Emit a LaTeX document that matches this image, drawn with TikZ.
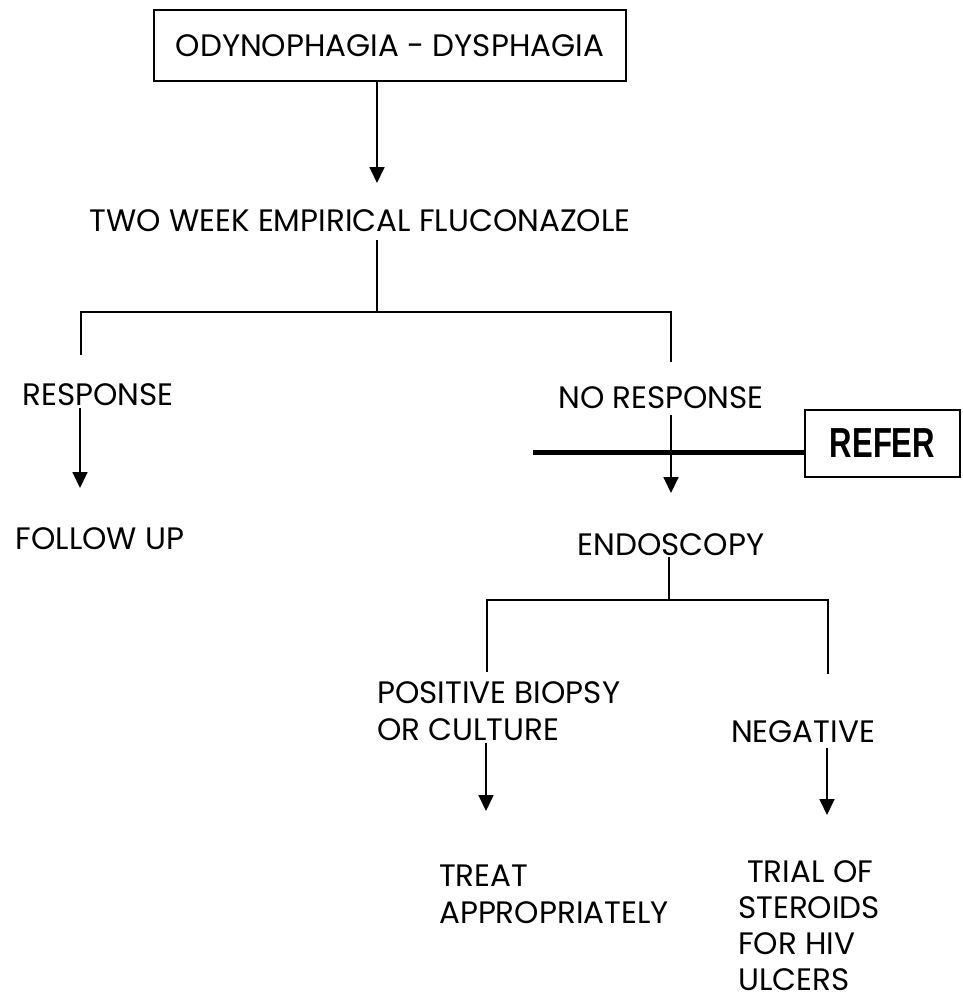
\documentclass[tikz,border=0pt]{standalone}
\usepackage{fontspec}
\usepackage{graphicx}
\setmainfont{Poppins}
\newfontfamily\referfont{Liberation Sans}
\usetikzlibrary{arrows.meta}
\tikzset{
  txt/.style={inner sep=0pt, font=\fontsize{31}{37}\selectfont, align=left},
  boxnode/.style={draw, line width=1.8pt, inner sep=0pt},
  ln/.style={line width=1.8pt},
  arr/.style={line width=1.8pt, -{Triangle[width=15pt,length=16pt]}},
  thick line/.style={line width=5pt},
}
\begin{document}
\begin{tikzpicture}[x=1pt,y=-1pt]
\useasboundingbox[fill=white] (0,0) rectangle (963,1005);
% nodes
\node[boxnode, minimum width=472pt, minimum height=71pt, anchor=north west, font=\fontsize{31}{37}\selectfont] (top) at (153,9) {ODYNOPHAGIA - DYSPHAGIA};
\node[txt, anchor=base] (fluc) at (360,231) {TWO WEEK EMPIRICAL FLUCONAZOLE};
\node[txt, anchor=base] (resp) at (98,405) {RESPONSE};
\node[txt, anchor=base] (follow) at (100,549) {FOLLOW UP};
\node[txt, anchor=base] (noresp) at (661,408) {NO RESPONSE};
\node[boxnode, minimum width=155pt, minimum height=67pt] (refer) at (882.5,443.5) {\referfont\bfseries\fontsize{42}{42}\selectfont\scalebox{0.74}[1]{REFER}};
\node[txt, anchor=base] (endo) at (671,555) {ENDOSCOPY};
\node[txt, anchor=base west] (pos) at (377,740) {POSITIVE BIOPSY\\OR CULTURE};
\node[txt, anchor=base] (neg) at (803,742) {NEGATIVE};
\node[txt, anchor=base west] (treat) at (439,923) {TREAT\\APPROPRIATELY};
\node[txt, anchor=base west, font=\fontsize{31}{36}\selectfont] (trial) at (738,990) {\hspace*{9pt}TRIAL OF\\STEROIDS\\FOR HIV\\ULCERS};
% coordinates
\coordinate (a1) at (377,183);
\coordinate (b0) at (377,240);
\coordinate (b1) at (377,312);
\coordinate (bl) at (81,312);
\coordinate (br) at (671,312);
\coordinate (bl2) at (81,355);
\coordinate (br2) at (671,362);
\coordinate (r0) at (80,408);
\coordinate (r1) at (80,488);
\coordinate (n0) at (671,415);
\coordinate (n1) at (671,493);
\coordinate (t0) at (533,452);
\coordinate (e0) at (669,557);
\coordinate (e1) at (669,600);
\coordinate (el) at (487,600);
\coordinate (er) at (828,600);
\coordinate (el2) at (487,672);
\coordinate (er2) at (828,674);
\coordinate (p0) at (486,743);
\coordinate (p1) at (486,811);
\coordinate (g0) at (827,748);
\coordinate (g1) at (827,815);
% connectors
\draw[arr] (top.south -| a1) -- (a1);
\draw[ln] (b0) -- (b1);
\draw[ln] (bl2) -- (bl) -- (br) -- (br2);
\draw[arr] (r0) -- (r1);
\draw[arr] (n0) -- (n1);
\draw[thick line] (t0) -- (refer.west |- t0);
\draw[ln] (e0) -- (e1);
\draw[ln] (el2) -- (el) -- (er) -- (er2);
\draw[arr] (p0) -- (p1);
\draw[arr] (g0) -- (g1);
\end{tikzpicture}
\end{document}
